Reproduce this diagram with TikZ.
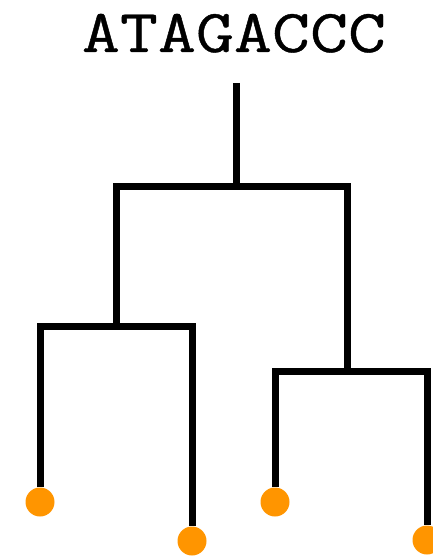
\documentclass[tikz,border=0pt]{standalone}
\usepackage{fontspec}
\newfontfamily\seqfont[FakeBold=0.6]{Latin Modern Mono}
\usepackage{xcolor}
\definecolor{leaforange}{HTML}{FF9500}
\definecolor{char}{HTML}{000000}
\usepackage{tikz}
\usetikzlibrary{positioning}

\begin{document}
\begin{tikzpicture}[x=1pt,y=-1pt,
    branch/.style={char,line width=7pt,line join=miter,line cap=butt},
    leaf/.style={circle,fill=leaforange,inner sep=0pt,minimum size=29pt}]
  \useasboundingbox (0,0) rectangle (433,556);
  % sequence at the root
  \node[font=\seqfont\fontsize{61}{61}\selectfont,anchor=base,xscale=1.21,transform shape] (seq) at (234,52) {ATAGACCC};
  % junctions
  \coordinate (top) at (236,83);
  \coordinate (jroot) at (236,186);
  \coordinate (jleft) at (116,326);
  \coordinate (jright) at (347,371);
  % tips
  \node[leaf] (tipA) at (40,502) {};
  \node[leaf] (tipB) at (192,541) {};
  \node[leaf] (tipC) at (275,502) {};
  \node[leaf] (tipD) at (427,540) {};
  % branches
  \draw[branch] (top) -- (jroot);
  \draw[branch] (jleft) |- (jroot) -| (jright);
  \draw[branch] (tipA) |- (jleft) -| (tipB);
  \draw[branch] (tipC) |- (jright) -| (tipD);
\end{tikzpicture}
\end{document}
